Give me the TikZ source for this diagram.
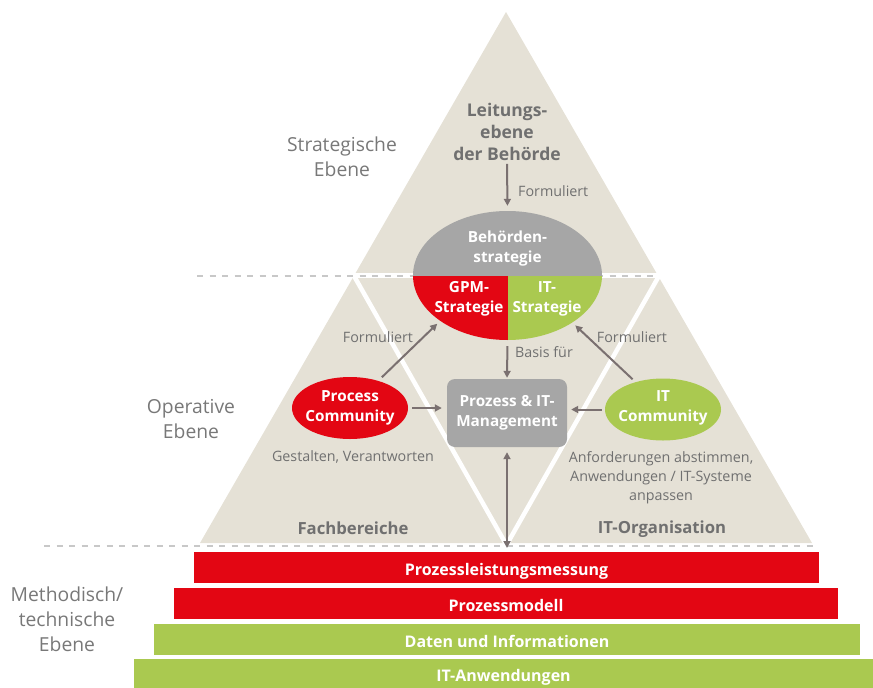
\documentclass[tikz,border=0pt]{standalone}
\usepackage{fontspec}
\setmainfont{Open Sans}
\usetikzlibrary{arrows.meta,shapes.geometric}
\definecolor{beige}{RGB}{229,225,214}
\definecolor{dred}{RGB}{227,6,19}
\definecolor{lgreen}{RGB}{170,201,80}
\definecolor{mgray}{RGB}{166,166,166}
\definecolor{tgray}{RGB}{112,112,112}
\definecolor{lvgray}{RGB}{120,120,120}
\definecolor{agray}{RGB}{122,112,112}
\definecolor{sepgray}{RGB}{200,200,200}
\begin{document}
\begin{tikzpicture}[x=1pt,y=-1pt,
  arr/.style={draw=agray, line width=2pt, -{Triangle[length=7pt,width=7pt]}},
  darr/.style={draw=agray, line width=2pt, {Triangle[length=7pt,width=7pt]}-{Triangle[length=7pt,width=7pt]}},
  sep/.style={draw=sepgray, line width=1.8pt, dash pattern=on 6pt off 6.5pt},
  wtext/.style={text=white, font=\fontsize{15.3}{20}\selectfont\bfseries, align=center, inner sep=0pt},
  small/.style={text=tgray, font=\fontsize{14.3}{19}\selectfont, align=center, inner sep=0pt},
  level/.style={text=lvgray, font=\fontsize{19.3}{25}\selectfont, align=center, inner sep=0pt},
  head/.style={text=tgray, font=\fontsize{16.7}{22}\selectfont\bfseries, align=center, inner sep=0pt},
  community/.style={ellipse, minimum width=116pt, minimum height=62pt, inner sep=0pt},
  bar/.style={minimum height=31pt, inner sep=0pt, text height=15pt, text depth=0pt, text=white, font=\fontsize{16}{16}\selectfont\bfseries}
]
\useasboundingbox (0,0) rectangle (873,688);

% pyramid body, split by white gaps into four triangles
\fill[beige] (506,12) -- (200,543) -- (812,543) -- cycle;
\draw[white, line width=5pt] (190,275.5) -- (830,275.5);
\draw[white, line width=4.5pt, line join=miter] (353.5,275) -- (506.5,545) -- (659.5,275);

% level separators
\draw[sep] (197,276) -- (658,276);
\draw[sep] (44,546) -- (813,546);

% level captions
\node[level] (lvs) at (342,157) {Strategische\\Ebene};
\node[level] (lvo) at (191,419.5) {Operative\\Ebene};
\node[level] (lvm) at (67,619) {Methodisch/\\technische\\Ebene};

% top: management
\node[head, font=\fontsize{17.5}{22}\selectfont\bfseries] (lead) at (507,132) {Leitungs-\\ebene\\der Behörde};

% strategy ellipse (gray / red / green)
\node[ellipse, minimum width=189pt, minimum height=129pt, inner sep=0pt] (strat) at (507.5,275.5) {};
\begin{scope}
  \clip (507.5,275.5) ellipse [x radius=94.5, y radius=64.5];
  \fill[mgray] (410,208) rectangle (606,275.5);
  \fill[dred] (410,275.5) rectangle (507.5,345);
  \fill[lgreen] (507.5,275.5) rectangle (606,345);
\end{scope}
\node[wtext] (bstr) at (507.5,248.5) {Behörden-\\strategie};
\node[wtext] (gpm) at (469,299) {GPM-\\Strategie};
\node[wtext] (its) at (547,299) {IT-\\Strategie};

\draw[arr, shorten <=3pt, shorten >=5pt] (lead.south) -- (strat.north);
\node[small, anchor=west] (f1) at (518,191) {Formuliert};

% operative level
\node[community, fill=dred] (pc) at (350,408) {};
\node[wtext] (pct) at (350,408) {Process\\Community};
\node[community, fill=lgreen] (itc) at (663,409.5) {};
\node[wtext] (itct) at (663,407.5) {IT\\Community};
\node[rectangle, rounded corners=8pt, fill=mgray, minimum width=120pt, minimum height=68pt, inner sep=0pt] (box) at (507,413) {};
\node[wtext] (boxt) at (507,413) {Prozess \& IT-\\Management};

\draw[arr, shorten <=6pt, shorten >=1pt] (strat.south) -- (box.north);
\node[small, anchor=west] (basis) at (515,352) {Basis für};

\draw[arr, shorten <=4pt, shorten >=5pt] (pc.east) -- (pc.east -| box.west);
\draw[arr, shorten <=3pt, shorten >=4pt] (itc.west) -- (itc.west -| box.east);

\draw[arr, shorten <=5pt, shorten >=4pt] (pc.44) -- (strat.214);
\draw[arr, shorten <=4pt, shorten >=4pt] (itc.135.5) -- (strat.324);
\node[small] (f2) at (378,337) {Formuliert};
\node[small] (f3) at (632,337) {Formuliert};

\coordinate (bot) at (507,548);
\draw[darr, shorten <=5pt] (box.south) -- (bot);

\node[small] (gv) at (353,457) {Gestalten, Verantworten};
\node[small] (an) at (661,478) {Anforderungen abstimmen,\\Anwendungen / IT-Systeme\\anpassen};
\node[head] (fb) at (353,528) {Fachbereiche};
\node[head] (ito) at (662,529) {IT-Organisation};

% methodical / technical level
\node[bar, fill=dred, minimum width=625pt] (b1) at (506.5,567.5) {Prozessleistungsmessung};
\node[bar, fill=dred, minimum width=664pt] (b2) at (506,603.5) {Prozessmodell};
\node[bar, fill=lgreen, minimum width=706pt] (b3) at (507,639.5) {Daten und Informationen};
\node[bar, fill=lgreen, minimum width=739pt, minimum height=29pt] (b4) at (503.5,673.5) {IT-Anwendungen};
\end{tikzpicture}
\end{document}
